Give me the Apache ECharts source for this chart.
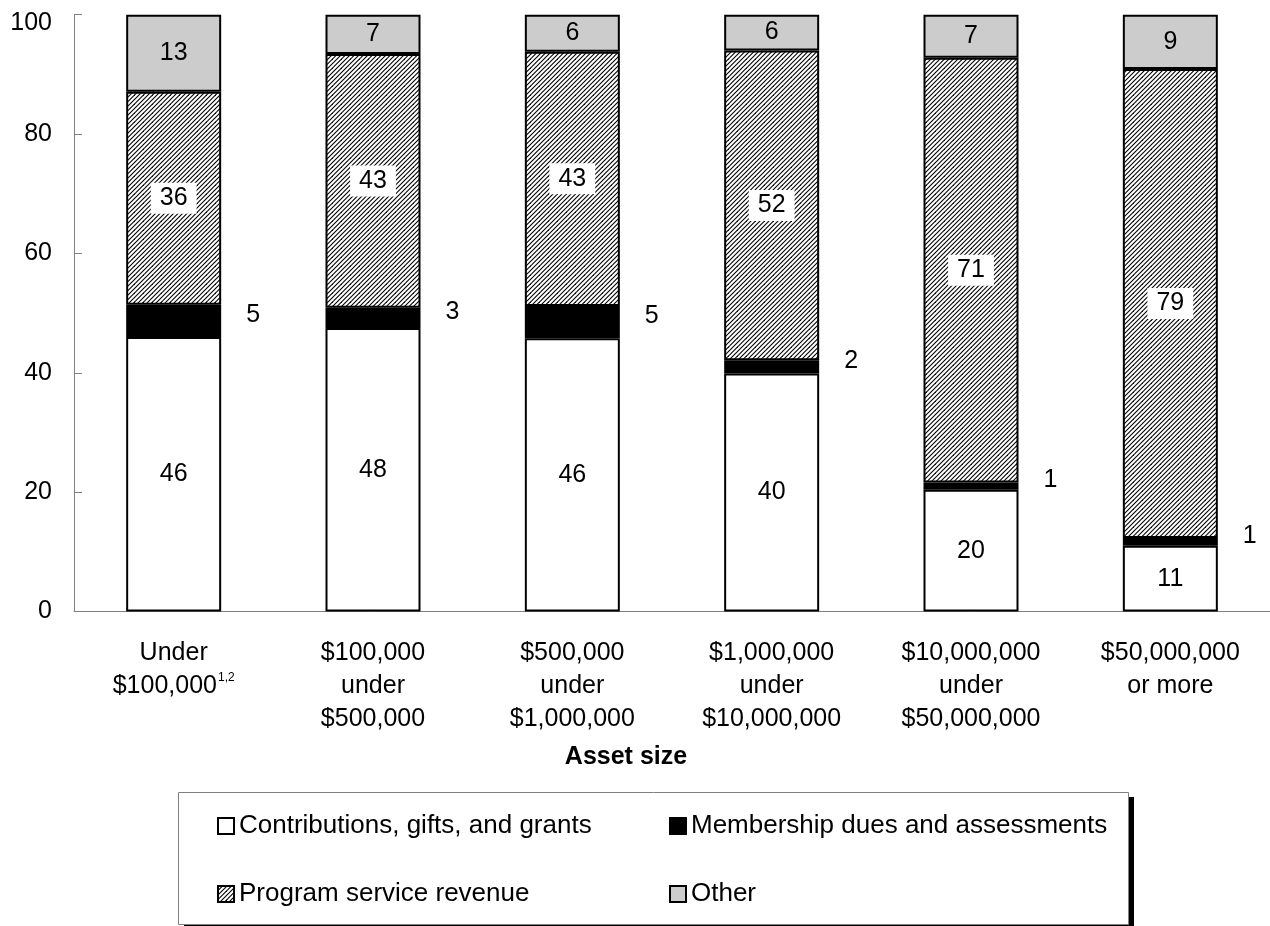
<!DOCTYPE html>
<html>
<head>
<meta charset="utf-8">
<script src="https://cdn.jsdelivr.net/npm/echarts@6/dist/echarts.min.js"></script>
<style>
html,body{margin:0;padding:0;background:#fff;}
#chart{width:1270px;height:926px;}
</style>
</head>
<body>
<div id="chart"></div>
<script>
// ---- data (percent of total revenue) ----
const categories = [
  'Under\n$100,000',
  '$100,000\nunder\n$500,000',
  '$500,000\nunder\n$1,000,000',
  '$1,000,000\nunder\n$10,000,000',
  '$10,000,000\nunder\n$50,000,000',
  '$50,000,000\nor more'
];
const categoryFootnotes = ['1,2', '', '', '', '', ''];
const seriesNames = [
  'Contributions, gifts, and grants',
  'Membership dues and assessments',
  'Program service revenue',
  'Other'
];
const contributions = [46.0, 47.5, 45.8, 39.9, 20.4, 11.0];
const membership    = [5.4, 3.4, 5.4, 2.2, 1.2, 1.3];
const programRev    = [35.7, 42.5, 42.6, 51.9, 71.2, 78.6];
const other         = [12.9, 6.6, 6.2, 6.0, 7.2, 9.1];
const yTicks = { min: 0, max: 100, interval: 20 };
const axisTitle = 'Asset size';

// ---- hatch pattern ----
function makeHatch() {
  const s = 9, step = 4.5;
  const c = document.createElement('canvas');
  c.width = s; c.height = s;
  const ctx = c.getContext('2d');
  ctx.fillStyle = '#fff';
  ctx.fillRect(0, 0, s, s);
  ctx.strokeStyle = '#000';
  ctx.lineWidth = 1.1;
  for (let k = -2; k <= 6; k++) {
    const cc = k * step;
    ctx.beginPath();
    ctx.moveTo(cc + 2, -2);
    ctx.lineTo(cc - s - 2, s + 2);
    ctx.stroke();
  }
  return c;
}
const hatch = { image: makeHatch(), repeat: 'repeat' };

const FONT = "'Liberation Sans', Arial, sans-serif";
const round = p => String(Math.round(p.value));

const baseLabel = { show: true, fontSize: 25, color: '#000', fontFamily: FONT, formatter: round };

function barSeries(name, data, fill, label) {
  return {
    name: name,
    type: 'bar',
    stack: 'total',
    barWidth: 95,
    data: data,
    itemStyle: { color: fill, borderColor: '#000', borderWidth: 2 },
    label: Object.assign({}, baseLabel, label),
    emphasis: { disabled: true },
    animation: false
  };
}

const legendCommon = {
  orient: 'horizontal',
  icon: 'rect',
  itemWidth: 16,
  itemHeight: 16,
  padding: 0,
  selectedMode: false,
  textStyle: { fontSize: 26, color: '#000', fontFamily: FONT }
};

const chart = echarts.init(document.getElementById('chart'), null, { renderer: 'canvas' });
chart.setOption({
  backgroundColor: '#fff',
  animation: false,
  textStyle: { fontFamily: FONT },
  grid: { left: 74, right: 0, top: 14.7, bottom: 314.5, containLabel: false },
  xAxis: {
    type: 'category',
    data: categories,
    axisLine: { lineStyle: { color: '#808080', width: 1 } },
    axisTick: { show: false },
    axisLabel: {
      interval: 0,
      fontSize: 25,
      lineHeight: 33,
      color: '#000',
      margin: 25,
      fontFamily: FONT,
      formatter: (v, i) => categoryFootnotes[i] ? v + '{sup|' + categoryFootnotes[i] + '}' : v,
      rich: {
        sup: { fontSize: 12, color: '#000', verticalAlign: 'top', lineHeight: 14, padding: [2, 0, 0, 1], fontFamily: FONT }
      }
    },
    name: axisTitle,
    nameLocation: 'middle',
    nameGap: 133,
    nameTextStyle: { fontSize: 25, fontWeight: 'bold', color: '#000', fontFamily: FONT, padding: [0, 92, 0, 0] }
  },
  yAxis: {
    type: 'value',
    min: yTicks.min,
    max: yTicks.max,
    interval: yTicks.interval,
    splitLine: { show: false },
    axisLine: { show: true, lineStyle: { color: '#808080', width: 1 } },
    axisTick: { show: true, inside: true, length: 8, lineStyle: { color: '#808080' } },
    axisLabel: {
      fontSize: 25, color: '#000', margin: 22, fontFamily: FONT,
      formatter: v => v === yTicks.max ? '{top|' + v + '}' : String(v),
      rich: { top: { fontSize: 25, color: '#000', fontFamily: FONT, padding: [16, 0, 0, 0] } }
    }
  },
  legend: [
    Object.assign({}, legendCommon, { data: [seriesNames[0]], left: 217, top: 813 }),
    Object.assign({}, legendCommon, { data: [seriesNames[1]], left: 669, top: 813 }),
    Object.assign({}, legendCommon, { data: [seriesNames[2]], left: 217, top: 881 }),
    Object.assign({}, legendCommon, { data: [seriesNames[3]], left: 669, top: 881 })
  ],
  graphic: [
    { type: 'rect', z: -10, shape: { x: 184, y: 797, width: 950, height: 132 }, style: { fill: '#000' }, silent: true },
    { type: 'rect', z: -9, shape: { x: 178.5, y: 792.5, width: 950, height: 132 }, style: { fill: '#fff', stroke: '#808080', lineWidth: 1 }, silent: true }
  ],
  series: [
    barSeries(seriesNames[0], contributions, '#ffffff', { position: 'inside' }),
    barSeries(seriesNames[1], membership, '#000000', { position: 'right', distance: 25, offset: [0, -6] }),
    barSeries(seriesNames[2], programRev, hatch, { position: 'inside', backgroundColor: '#fff', padding: [3, 9, 3, 9] }),
    barSeries(seriesNames[3], other, '#cccccc', { position: 'inside' })
  ]
});
</script>
</body>
</html>
